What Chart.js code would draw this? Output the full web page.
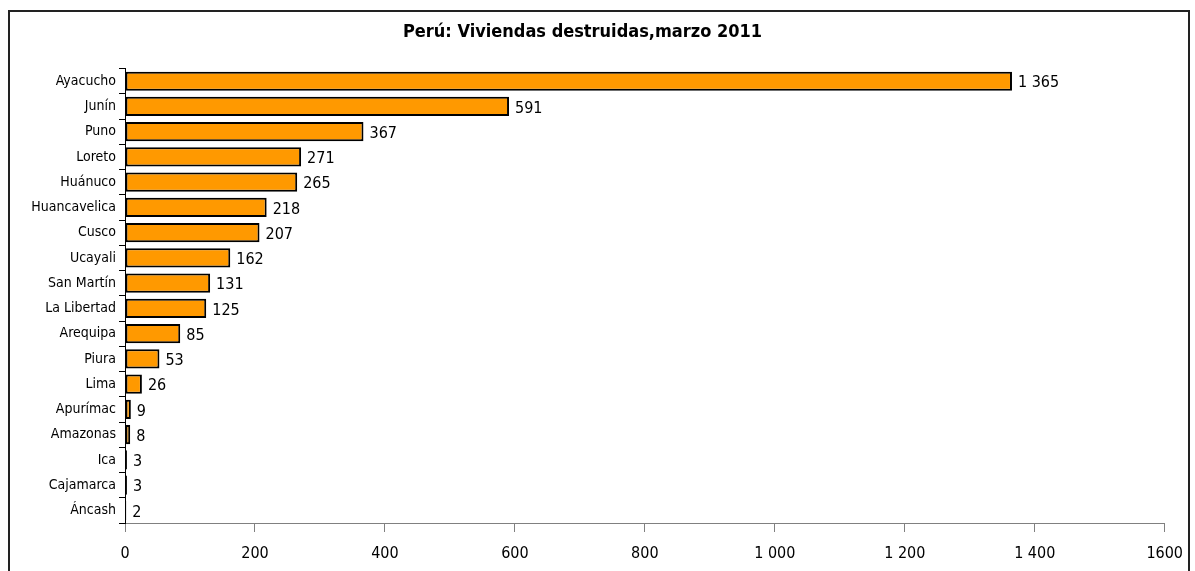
<!DOCTYPE html>
<html lang="es">
<head>
    <meta charset="UTF-8">
    <title>Perú: Viviendas destruidas, marzo 2011</title>
    <script src="https://cdn.jsdelivr.net/npm/chart.js"></script>
    <style>
        body {
            margin: 0;
            background: #fff;
            width: 1195px;
            height: 571px;
            overflow: hidden;
            position: relative;
        }
        #frame {
            position: absolute;
            left: 8px;
            top: 10px;
            width: 1178px;
            height: 600px;
            border: 2px solid #222;
        }
        #wrap {
            position: absolute;
            left: 0;
            top: 0;
            width: 1195px;
            height: 571px;
        }
    </style>
</head>
<body>
    <div id="frame"></div>
    <div id="wrap"><canvas id="viviendasChart"></canvas></div>

    <script>
        // Datos: viviendas destruidas por departamento
        const regiones = ['Ayacucho', 'Junín', 'Puno', 'Loreto', 'Huánuco', 'Huancavelica', 'Cusco', 'Ucayali',
            'San Martín', 'La Libertad', 'Arequipa', 'Piura', 'Lima', 'Apurímac', 'Amazonas', 'Ica', 'Cajamarca', 'Áncash'];
        const viviendas = [1365, 591, 367, 271, 265, 218, 207, 162, 131, 125, 85, 53, 26, 9, 8, 3, 3, 2];
        const tickValues = [0, 200, 400, 600, 800, 1000, 1200, 1400, 1600];
        const tickLabels = ['0', '200', '400', '600', '800', '1 000', '1 200', '1 400', '1600'];

        const fontFamily = "'Liberation Sans Narrow', 'DejaVu Sans Condensed', 'Arial Narrow', sans-serif";

        function formatNum(n) {
            return String(n).replace(/\B(?=(\d{3})+(?!\d))/g, ' ');
        }

        // etiquetas de valor al final de cada barra
        const valueLabels = {
            id: 'valueLabels',
            afterDatasetsDraw(chart) {
                const ctx = chart.ctx;
                const meta = chart.getDatasetMeta(0);
                ctx.save();
                ctx.font = '16px ' + fontFamily;
                ctx.fillStyle = '#000';
                ctx.textAlign = 'left';
                ctx.textBaseline = 'middle';
                meta.data.forEach((bar, i) => {
                    ctx.fillText(formatNum(viviendas[i]), bar.x + 6, bar.y + 2);
                });
                ctx.restore();
            }
        };

        const ctx = document.getElementById('viviendasChart').getContext('2d');
        new Chart(ctx, {
            type: 'bar',
            data: {
                labels: regiones,
                datasets: [{
                    data: viviendas,
                    backgroundColor: '#FF9900',
                    borderColor: '#000',
                    borderWidth: 2,
                    borderSkipped: false,
                    barPercentage: 0.76,
                    categoryPercentage: 1
                }]
            },
            options: {
                indexAxis: 'y',
                responsive: true,
                maintainAspectRatio: false,
                animation: false,
                layout: {
                    padding: { left: 0, right: 30, top: 0, bottom: 0 }
                },
                plugins: {
                    legend: { display: false },
                    tooltip: { enabled: false },
                    title: {
                        display: true,
                        text: 'Perú: Viviendas destruidas,marzo 2011',
                        color: '#000',
                        font: { family: fontFamily, size: 18, weight: 'bold' },
                        padding: { top: 22, bottom: 25 }
                    }
                },
                scales: {
                    x: {
                        min: 0,
                        max: 1600,
                        afterBuildTicks(scale) {
                            scale.ticks = tickValues.map(v => ({ value: v }));
                        },
                        afterFit(scale) {
                            scale.height = 48;
                        },
                        border: { display: true, color: '#808080', width: 1 },
                        grid: {
                            drawOnChartArea: false,
                            drawTicks: true,
                            tickLength: 9,
                            color: '#808080'
                        },
                        ticks: {
                            color: '#000',
                            padding: 12,
                            maxRotation: 0,
                            font: { family: fontFamily, size: 16 },
                            callback: (v) => tickLabels[tickValues.indexOf(v)]
                        }
                    },
                    y: {
                        afterFit(scale) {
                            scale.width = 125;
                        },
                        border: { display: true, color: '#000', width: 1 },
                        grid: {
                            offset: true,
                            drawOnChartArea: false,
                            drawTicks: true,
                            tickLength: 6,
                            color: '#000'
                        },
                        ticks: {
                            color: '#000',
                            padding: 3,
                            autoSkip: false,
                            font: { family: fontFamily, size: 14 }
                        }
                    }
                }
            },
            plugins: [valueLabels]
        });
    </script>
</body>
</html>
